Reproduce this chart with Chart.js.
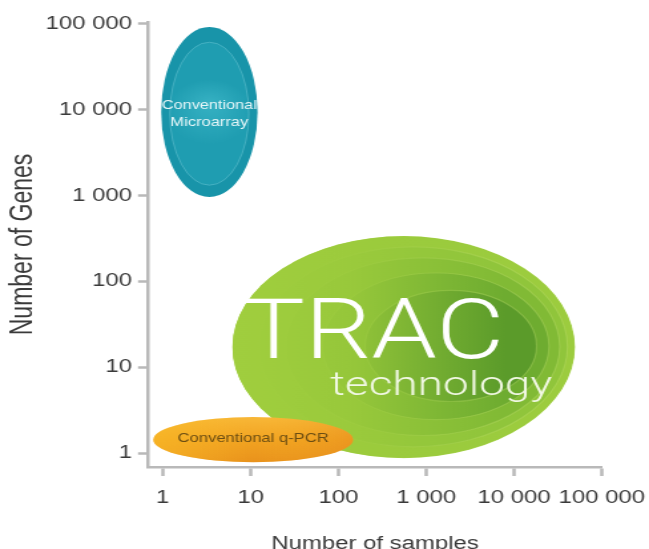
<!DOCTYPE html>
<html>
<head>
<meta charset="utf-8">
<script src="https://cdn.jsdelivr.net/npm/chart.js@4.4.1/dist/chart.umd.min.js"></script>
<style>
  html, body { margin: 0; padding: 0; background: #fff; overflow: hidden; }
  #chart { display: block; }
</style>
</head>
<body>
<!-- the original picture is stretched sideways, so the canvas is drawn narrow and widened by its inline style -->
<canvas id="chart" width="488" height="549" style="width:649px;height:549px"></canvas>
<script>
const tickValues = [1, 10, 100, 1000, 10000, 100000];
const tickLabels = ['1', '10', '100', '1 000', '10 000', '100 000'];

// each region is an oval spanning these bounds on the two log axes
const regionNames = ['TRAC technology', 'Conventional q-PCR', 'Conventional Microarray'];
const samplesLow  = [6.2, 0.78, 0.96];
const samplesHigh = [49600, 147, 12];
const genesLow    = [0.875, 0.785, 960];
const genesHigh   = [338, 2.63, 92000];

const axisGrey = '#b9b9b9';
const textGrey = '#3a3a3a';

function ovalPath(ctx, cx, cy, rx, ry) {
    ctx.beginPath();
    ctx.ellipse(cx, cy, rx, ry, 0, 0, Math.PI * 2);
}

function fitText(ctx, text, x, y, width, align) {
    const w = ctx.measureText(text).width;
    ctx.save();
    ctx.translate(x, y);
    ctx.scale(width / w, 1);
    ctx.textAlign = align;
    ctx.fillText(text, 0, 0);
    ctx.restore();
}

function paintTrac(ctx, b) {
    ctx.save();
    ovalPath(ctx, b.cx, b.cy, b.rx, b.ry);
    ctx.clip();
    // rings shrinking towards a point on the right
    const fx = b.cx + 0.55 * b.rx, fy = b.cy - 0.02 * b.ry;
    const rings = [1, 0.9, 0.8, 0.66, 0.5];
    const ringColors = ['#9ccc3e', '#90c53b', '#81ba35', '#6eac30', '#5b9b2a'];
    rings.forEach((k, i) => {
        ovalPath(ctx, fx + k * (b.cx - fx), fy + k * (b.cy - fy), k * b.rx, k * b.ry);
        ctx.fillStyle = ringColors[i];
        ctx.fill();
        ctx.lineWidth = 1.2;
        ctx.strokeStyle = 'rgba(200, 230, 120, 0.3)';
        ctx.stroke();
    });
    // bright lime wash on the left side
    const g = ctx.createLinearGradient(b.cx - b.rx, 0, b.cx + 0.6 * b.rx, 0);
    g.addColorStop(0, 'rgba(160, 206, 62, 1)');
    g.addColorStop(0.45, 'rgba(156, 203, 60, 0.85)');
    g.addColorStop(1, 'rgba(150, 200, 60, 0)');
    ctx.fillStyle = g;
    ctx.fillRect(b.cx - b.rx, b.cy - b.ry, 2 * b.rx, 2 * b.ry);
    ctx.restore();

    ctx.fillStyle = '#ffffff';
    ctx.textBaseline = 'alphabetic';
    ctx.font = '300 84px Roboto, "Liberation Sans", sans-serif';
    fitText(ctx, 'TRAC', b.cx - b.rx + 7.5, b.cy + 11, 197, 'left');
    ctx.fillStyle = '#f1f8e4';
    ctx.font = '300 34px Roboto, "Liberation Sans", sans-serif';
    fitText(ctx, 'technology', b.cx + b.rx - 17.3, b.cy + 48, 167, 'right');
}

function paintPcr(ctx, b) {
    ctx.save();
    ovalPath(ctx, b.cx, b.cy, b.rx, b.ry);
    const g = ctx.createLinearGradient(0, b.cy - b.ry, 0, b.cy + b.ry);
    g.addColorStop(0, '#f8b738');
    g.addColorStop(0.5, '#f2a321');
    g.addColorStop(1, '#e9921c');
    ctx.fillStyle = g;
    ctx.fill();
    ctx.clip();
    const h = ctx.createLinearGradient(b.cx - b.rx, 0, b.cx + b.rx, 0);
    h.addColorStop(0, 'rgba(250, 190, 40, 0.6)');
    h.addColorStop(0.5, 'rgba(250, 190, 40, 0)');
    h.addColorStop(1, 'rgba(225, 130, 30, 0.35)');
    ctx.fillStyle = h;
    ctx.fillRect(b.cx - b.rx, b.cy - b.ry, 2 * b.rx, 2 * b.ry);
    ctx.restore();

    ctx.fillStyle = '#6b4d12';
    ctx.textBaseline = 'middle';
    ctx.font = '13px "Liberation Sans", Arial, sans-serif';
    fitText(ctx, 'Conventional q-PCR', b.cx, b.cy - 1, 113.5, 'center');
}

function paintArray(ctx, b) {
    ctx.save();
    ovalPath(ctx, b.cx, b.cy, b.rx, b.ry);
    ctx.fillStyle = '#1894a9';
    ctx.fill();
    ovalPath(ctx, b.cx, b.cy + 0.02 * b.ry, b.rx * 0.82, b.ry * 0.84);
    const g = ctx.createRadialGradient(b.cx, b.cy - 0.1 * b.ry, 2, b.cx, b.cy, b.rx * 0.9);
    g.addColorStop(0, '#35b0c2');
    g.addColorStop(1, '#1f9db1');
    ctx.fillStyle = g;
    ctx.fill();
    ctx.lineWidth = 1;
    ctx.strokeStyle = 'rgba(130, 210, 222, 0.4)';
    ctx.stroke();
    ctx.restore();

    ctx.fillStyle = '#e6f6f8';
    ctx.textBaseline = 'middle';
    ctx.font = '13px "Liberation Sans", Arial, sans-serif';
    fitText(ctx, 'Conventional', b.cx, b.cy - 7, 71.4, 'center');
    fitText(ctx, 'Microarray', b.cx, b.cy + 10, 58.6, 'center');
}

const painters = [paintTrac, paintPcr, paintArray];

const regionPlugin = {
    id: 'regions',
    afterDatasetsDraw(chart) {
        const ctx = chart.ctx;
        const xs = chart.scales.x, ys = chart.scales.y;
        chart.data.datasets.forEach((ds, i) => {
            const lo = ds.data[0], hi = ds.data[1];
            const x0 = xs.getPixelForValue(lo.x), x1 = xs.getPixelForValue(hi.x);
            const y0 = ys.getPixelForValue(hi.y), y1 = ys.getPixelForValue(lo.y);
            const box = { cx: (x0 + x1) / 2, cy: (y0 + y1) / 2, rx: (x1 - x0) / 2, ry: (y1 - y0) / 2 };
            painters[i](ctx, box);
        });
    }
};

function axisOptions(min, max, extra) {
    return Object.assign({
        type: 'logarithmic',
        min: min,
        max: max,
        afterBuildTicks: s => { s.ticks = tickValues.map(v => ({ value: v })); },
        ticks: {
            autoSkip: false,
            maxRotation: 0,
            color: textGrey,
            font: { family: '"Liberation Sans", Arial, sans-serif', size: 18 },
            callback: (v, i) => tickLabels[i]
        },
        grid: { drawOnChartArea: false, drawTicks: true, color: axisGrey, tickColor: axisGrey, tickWidth: 2.5 },
        border: { color: axisGrey, width: 2.5 }
    }, extra);
}

// the outer labels may hang over the plot edges, so drop the padding chart.js asks for them
function noLabelPadding(s) {
    s.paddingLeft = 0;
    s.paddingRight = 0;
    s.paddingTop = 0;
    s.paddingBottom = 0;
}

const xAxis = axisOptions(0.68, 100000, {
    afterFit: s => { s.height = 82; noLabelPadding(s); },
    title: {
        display: true,
        text: 'Number of samples',
        color: textGrey,
        font: { family: '"Liberation Sans", Arial, sans-serif', size: 18 },
        padding: { top: 0, bottom: -5.5 }
    }
});
xAxis.ticks.padding = 11;
xAxis.grid.tickLength = 9;

const yAxis = axisOptions(0.69, 105000, {
    afterFit: s => { s.width = 111.3; noLabelPadding(s); },
    title: {
        display: true,
        text: 'Number of Genes',
        color: textGrey,
        font: { family: '"Liberation Sans", Arial, sans-serif', size: 23 },
        padding: { top: 3.5, bottom: 0 }
    }
});
yAxis.ticks.padding = 4.5;
yAxis.grid.tickLength = 7.5;

new Chart(document.getElementById('chart').getContext('2d'), {
    type: 'scatter',
    data: {
        datasets: regionNames.map((name, i) => ({
            label: name,
            data: [{ x: samplesLow[i], y: genesLow[i] }, { x: samplesHigh[i], y: genesHigh[i] }],
            pointRadius: 0,
            pointHoverRadius: 0,
            showLine: false
        }))
    },
    options: {
        responsive: false,
        animation: false,
        devicePixelRatio: 1,
        layout: { padding: { left: 0, right: 35.4, top: 22, bottom: 0 } },
        plugins: { legend: { display: false }, tooltip: { enabled: false } },
        scales: { x: xAxis, y: yAxis }
    },
    plugins: [regionPlugin]
});
</script>
</body>
</html>
